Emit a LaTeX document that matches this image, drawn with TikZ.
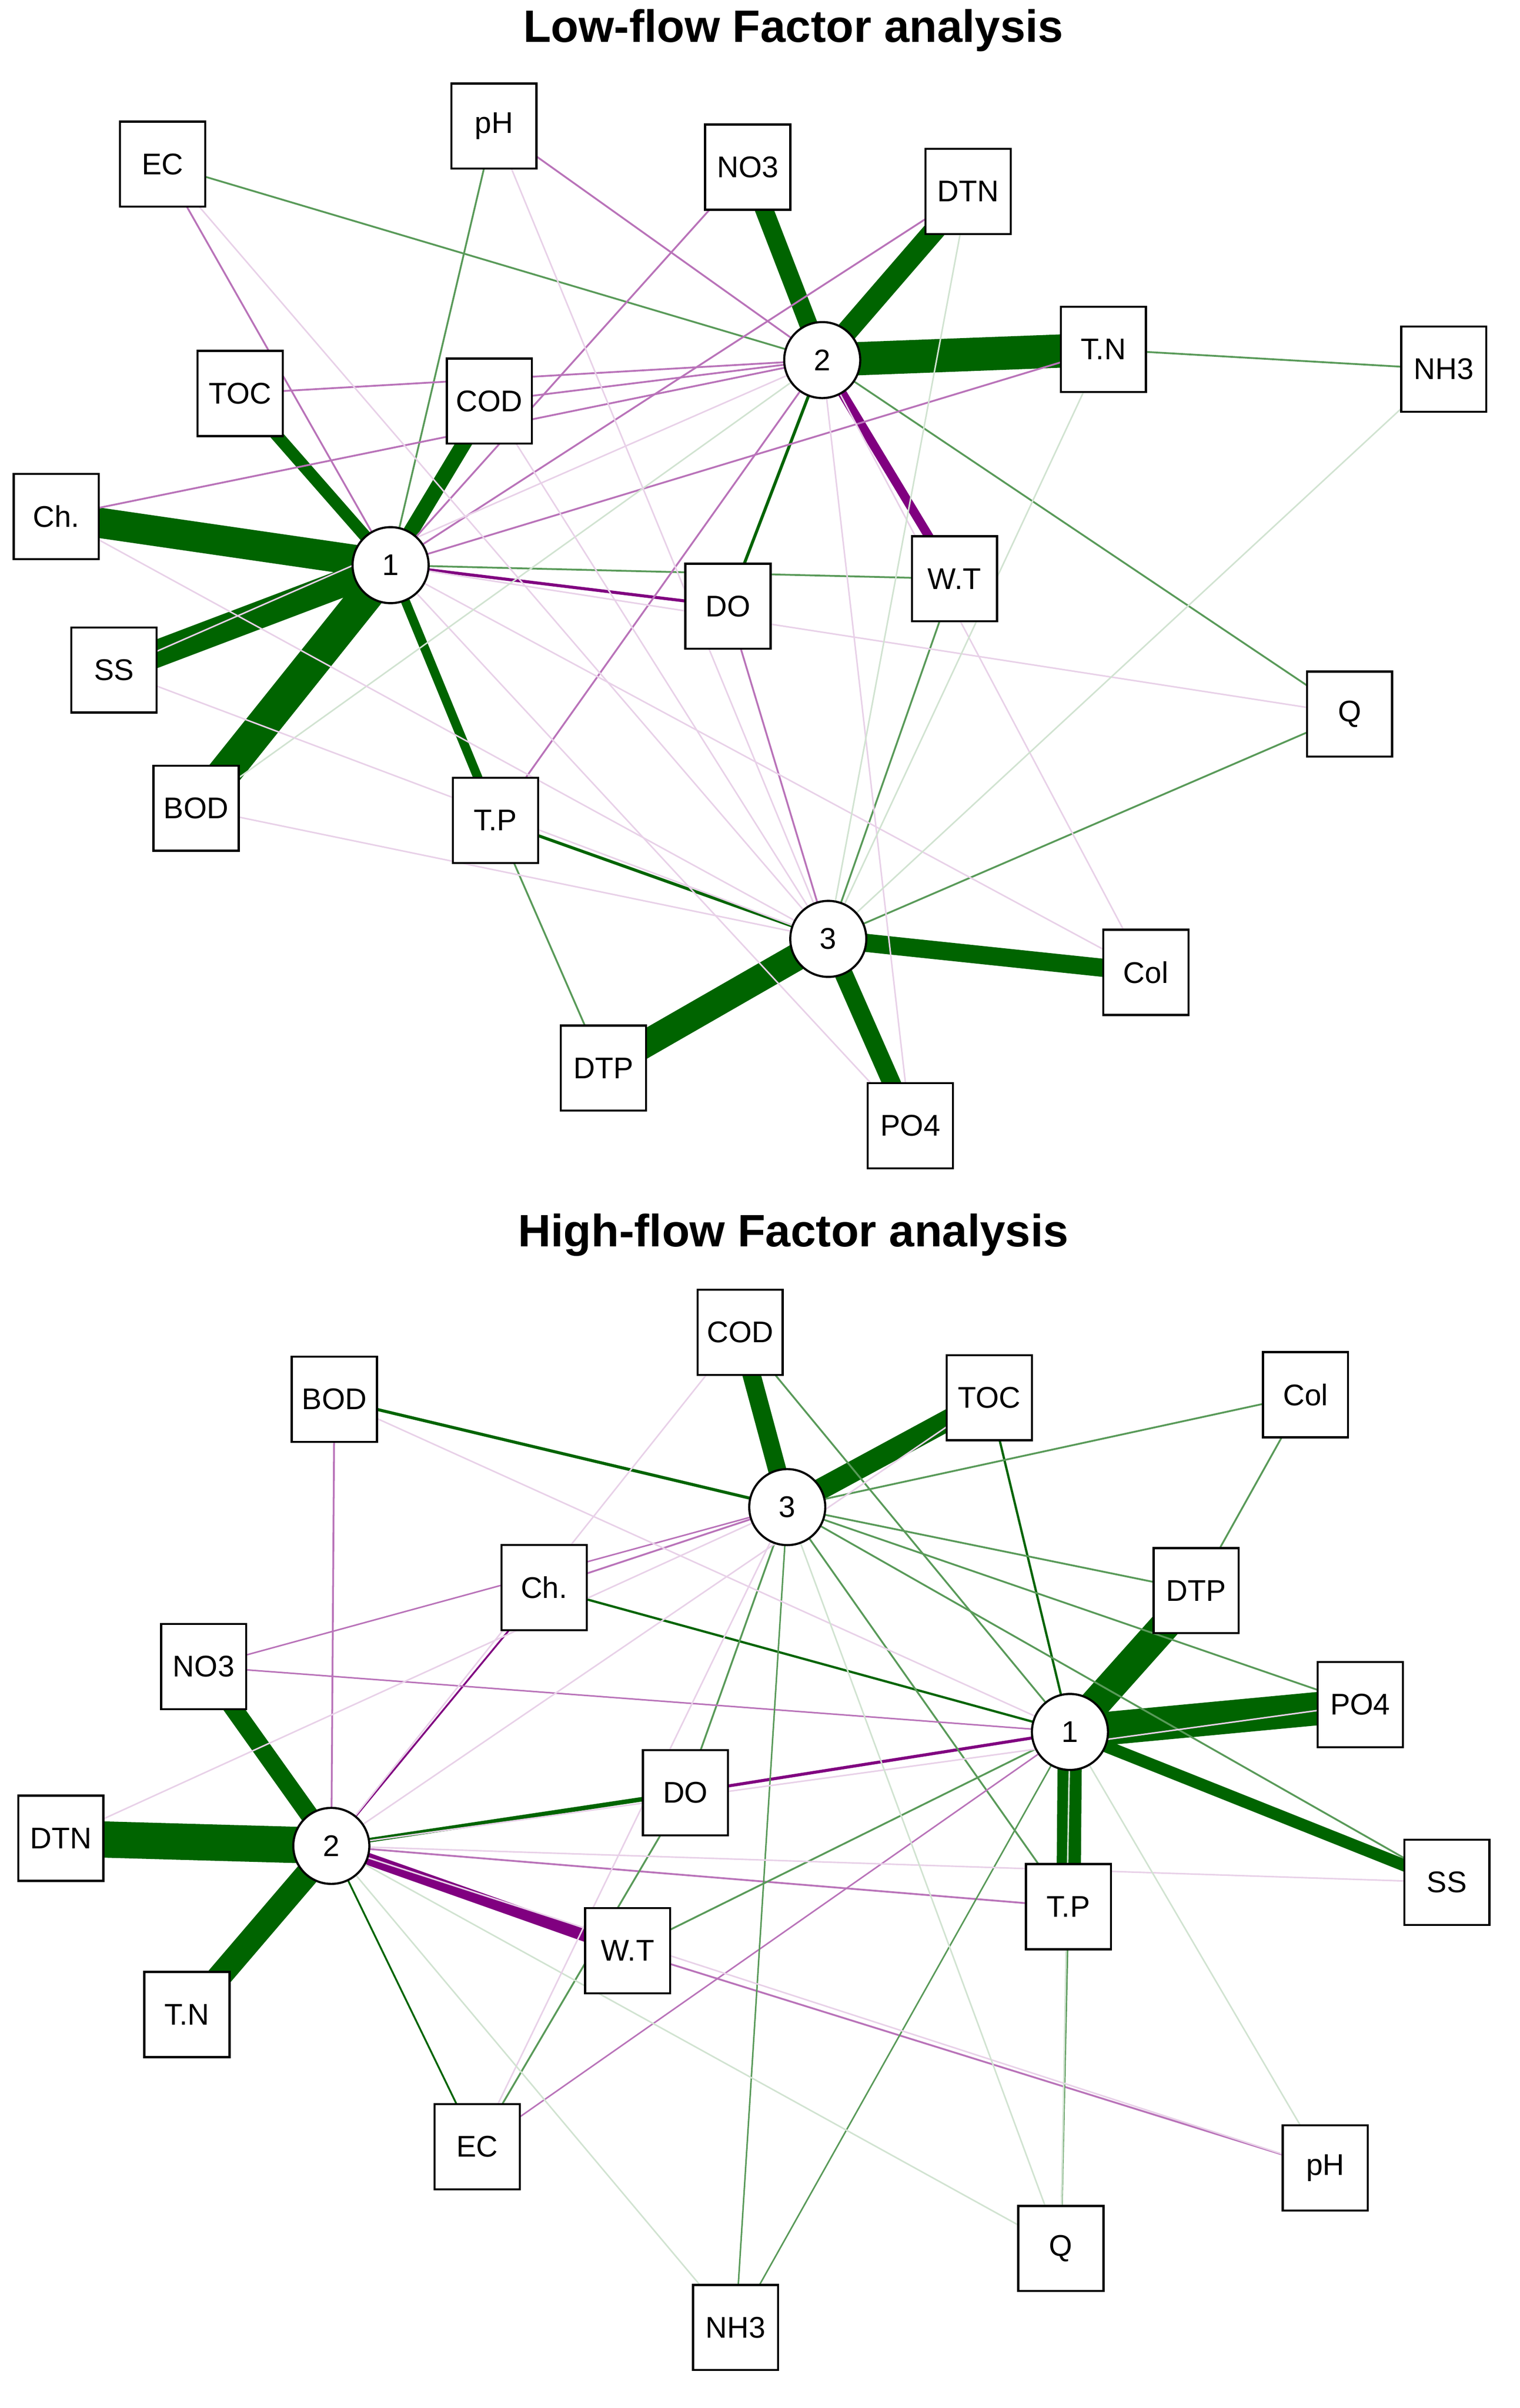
\documentclass[tikz,border=0pt]{standalone}
\usepackage{fontspec}
\setmainfont{Liberation Sans}
\usetikzlibrary{backgrounds}
\definecolor{dg}{RGB}{0,100,0}
\definecolor{dp}{RGB}{128,0,128}
\tikzset{
 v/.style={draw,fill=white,minimum size=0.56cm,inner sep=0pt,font=\fontsize{5.6}{6}\selectfont},
 f/.style={draw,circle,fill=white,minimum size=0.5cm,inner sep=0pt,font=\fontsize{5.6}{6}\selectfont},
 ttl/.style={font=\bfseries\fontsize{8.5}{10}\selectfont},
 e/.style={line width=#1*0.283pt},
 G/.style={draw=dg},
 P/.style={draw=dp},
 g/.style={draw=dg!65!white},
 p/.style={draw=dp!55!white},
 fg/.style={draw=dg!18!white},
 fp/.style={draw=dp!18!white}
}
\begin{document}
\begin{tikzpicture}[x=0.01cm,y=-0.01cm]
\useasboundingbox (0,0) rectangle (1000,1585);
% ---------- Low-flow
\node[ttl] (t1) at (522,20) {Low-flow Factor analysis};
\node[f] (L1) at (257,372) {1};
\node[f] (L2) at (541,237) {2};
\node[f] (L3) at (545,618) {3};
\foreach \n/\x/\y/\t in {EC/107/108/EC,pH/325/83/pH,NO3/492/110/NO3,DTN/637/126/DTN,TN/726/230/T.N,NH3/950/243/NH3,TOC/158/259/TOC,COD/322/264/COD,Ch/37/340/Ch.,SS/75/441/SS,BOD/129/532/BOD,DO/479/399/DO,WT/628/381/W.T,Q/888/470/Q,TP/326/540/T.P,Col/754/640/Col,DTP/397/703/DTP,PO4/599/741/PO4}
  \node[v] (L\n) at (\x,\y) {\t};
\begin{scope}[on background layer]
\foreach \a/\b/\s/\w in {
 L1/LTOC/G/8, L1/LCOD/G/10, L1/LCh/G/20, L1/LSS/G/18, L1/LBOD/G/22, L1/LTP/G/6,
 L2/LNO3/G/12, L2/LDTN/G/14, L2/LTN/G/22, L2/LWT/P/6, L2/LDO/G/2,
 L3/LCol/G/12, L3/LDTP/G/18, L3/LPO4/G/12, L3/LTP/G/2, L1/LDO/P/2,
 L1/LWT/g/1.2, L1/LpH/g/1.2, L2/LEC/g/1.2, L2/LpH/p/1.2, L1/LEC/p/1.2,
 LTN/LNH3/g/1.2, L2/LQ/g/1.2, L3/LQ/g/1.2, L3/LWT/g/1.2, L3/LDO/p/1.2,
 L2/LTOC/p/1.2, L2/LCOD/p/1.2, L2/LCh/p/1.2, L1/LNO3/p/1.2, L1/LDTN/p/1.2,
 L1/LTN/p/1.2, L2/LTP/p/1.2, LDTP/LTP/g/1.2, L1/LQ/fp/1,
 L1/LCol/fp/1, L1/LPO4/fp/1, L2/LCol/fp/1, L2/LPO4/fp/1, L2/LSS/fp/1,
 L2/LBOD/fg/1, L3/LCh/fp/1, L3/LSS/fp/1, L3/LBOD/fp/1, L3/LpH/fp/1, L3/LEC/fp/1,
 L3/LNH3/fg/1, L3/LTN/fg/1, L3/LDTN/fg/1, L3/LCOD/fp/1}
 \draw[\s,e=\w] (\a.center) -- (\b.center);
\end{scope}
% ---------- High-flow
\node[ttl] (t2) at (522,813) {High-flow Factor analysis};
\node[f] (H3) at (518,992) {3};
\node[f] (H1) at (704,1140) {1};
\node[f] (H2) at (218,1215) {2};
\foreach \n/\x/\y/\t in {COD/487/877/COD,TOC/651/920/TOC,BOD/220/921/BOD,Col/859/918/Col,Ch/358/1045/Ch.,DTP/787/1047/DTP,NO3/134/1097/NO3,PO4/895/1122/PO4,DO/451/1180/DO,DTN/40/1210/DTN,SS/952/1239/SS,TP/703/1255/T.P,WT/413/1284/W.T,TN/123/1326/T.N,EC/314/1413/EC,pH/872/1427/pH,Q/698/1480/Q,NH3/484/1532/NH3}
  \node[v] (H\n) at (\x,\y) {\t};
\begin{scope}[on background layer]
\foreach \a/\b/\s/\w in {
 H3/HCOD/G/12, H3/HTOC/G/14, H1/HDTP/G/20, H1/HPO4/G/22, H1/HSS/G/8, H1/HTP/G/16,
 H2/HNO3/G/12, H2/HDTN/G/24, H2/HTN/G/16, H2/HWT/P/8, H2/HDO/G/3, H1/HDO/P/2,
 H3/HBOD/G/2, H1/HCh/G/1.5, H1/HTOC/G/1.5, H3/HCol/g/1.2, H3/HDTP/g/1.2, H3/HPO4/g/1.2,
 H3/HCh/p/1.2, H2/HBOD/p/1.2, H2/HCh/P/1.2, H2/HEC/G/1.2, H2/HTP/p/1.2, H1/HWT/g/1.2,
 HWT/HpH/p/1.2, HTP/HQ/g/1.2, HDO/HEC/g/1.2, H3/HDO/g/1.2, H3/HTP/g/1.2, H3/HSS/g/1.2,
 H1/HCOD/g/1.2, HCol/HDTP/g/1.2, H1/HNH3/g/1, H1/HEC/p/1, H1/HNO3/p/1, H3/HNO3/p/1,
 H3/HNH3/g/1, H2/HpH/fp/1, H2/HQ/fg/1, H2/HSS/fp/1, H2/HPO4/fp/1,
 H2/HCOD/fp/1, H2/HTOC/fp/1, H1/HQ/fg/1, H1/HpH/fg/1, H1/HBOD/fp/1, H3/HQ/fg/1,
 H3/HEC/fp/1, H2/HNH3/fg/1, H3/HDTN/fp/1}
 \draw[\s,e=\w] (\a.center) -- (\b.center);
\end{scope}
\end{tikzpicture}
\end{document}
